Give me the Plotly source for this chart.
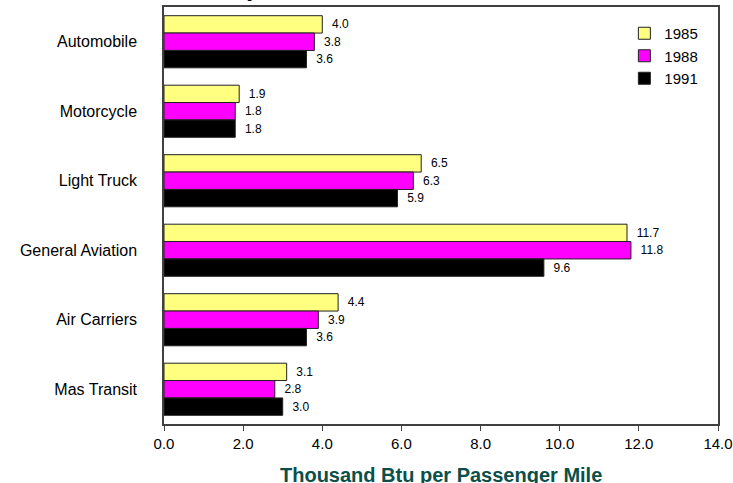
import plotly.graph_objects as go

categories = ["Automobile", "Motorcycle", "Light Truck", "General Aviation", "Air Carriers", "Mas Transit"]
years = ["1985", "1988", "1991"]
values_1985 = [4.0, 1.9, 6.5, 11.7, 4.4, 3.1]
values_1988 = [3.8, 1.8, 6.3, 11.8, 3.9, 2.8]
values_1991 = [3.6, 1.8, 5.9, 9.6, 3.6, 3.0]
x_ticks = [0, 2, 4, 6, 8, 10, 12, 14]
x_tick_labels = ["0.0", "2.0", "4.0", "6.0", "8.0", "10.0", "12.0", "14.0"]
title_text = "Intensities of Transportation Mode, 1985, 1988, 1991"
x_title = "Thousand Btu per Passenger Mile"

series = [values_1985, values_1988, values_1991]
colors = ["#FFFF80", "#FF00FF", "#000000"]
FONT = "Arial, Liberation Sans, sans-serif"

fig = go.Figure()
for name, vals, col in zip(years, series, colors):
    fig.add_trace(go.Bar(
        name=name, y=categories, x=vals, orientation="h", legendgroup=name,
        marker=dict(color=col, line=dict(color="#222222", width=1)),
        text=vals, texttemplate="\u00a0\u00a0%{x:.1f}", textposition="outside",
        textfont=dict(family=FONT, size=12, color="#000000"),
        cliponaxis=False,
    ))

fig.update_layout(
    width=733, height=483,
    margin=dict(l=164, r=15, t=7, b=59, autoexpand=False),
    paper_bgcolor="white", plot_bgcolor="white",
    barmode="group", bargap=0.25, bargroupgap=0,
    font=dict(family=FONT, color="#000000"),
    showlegend=True,
    legend=dict(x=0.831, y=0.976, xanchor="left", yanchor="top",
                bgcolor="rgba(0,0,0,0)", font=dict(size=15, family=FONT),
                traceorder="normal", tracegroupgap=4),
    annotations=[
        dict(text="<b>" + title_text + "</b>", xref="paper", yref="paper",
             x=0.8827, y=1.0, xanchor="right", yanchor="bottom", yshift=3,
             showarrow=False, font=dict(size=26, family=FONT, color="#000000")),
        dict(text="<b>" + x_title + "</b>", xref="paper", yref="paper",
             x=0.5, y=-0.1223, xanchor="center", yanchor="middle",
             showarrow=False, font=dict(size=20, family=FONT, color="#0B4F4A")),
    ],
)
fig.update_xaxes(
    range=[0, 14], tickvals=x_ticks, ticktext=x_tick_labels, automargin=False,
    showline=True, mirror=True, linecolor="#404040", linewidth=1.5,
    ticks="outside", ticklen=5, tickcolor="#404040",
    showgrid=False, zeroline=False,
    tickfont=dict(size=15, family=FONT, color="#000000"),
)
fig.update_yaxes(
    autorange="reversed", showline=True, mirror=True, linecolor="#404040", linewidth=1.5,
    ticks="", showgrid=False, ticklabelstandoff=22, automargin=False,
    tickfont=dict(size=16, family=FONT, color="#000000"),
)

fig.write_html("out.html", config={"displayModeBar": False},
               post_script="document.body.style.margin='0';")
